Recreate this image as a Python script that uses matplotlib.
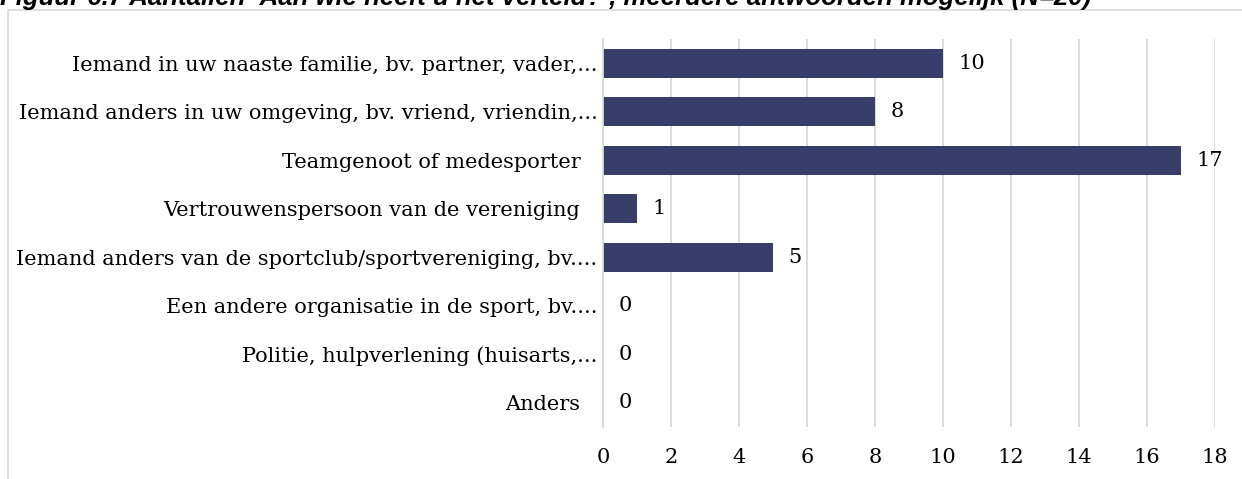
import matplotlib
matplotlib.use("Agg")
import matplotlib.pyplot as plt
from matplotlib.patches import Rectangle
from matplotlib.transforms import ScaledTranslation

categories = [
    "Iemand in uw naaste familie, bv. partner, vader,...",
    "Iemand anders in uw omgeving, bv. vriend, vriendin,...",
    "Teamgenoot of medesporter",
    "Vertrouwenspersoon van de vereniging",
    "Iemand anders van de sportclub/sportvereniging, bv....",
    "Een andere organisatie in de sport, bv....",
    "Politie, hulpverlening (huisarts,...",
    "Anders",
]
values = [10, 8, 17, 1, 5, 0, 0, 0]
xticks = [0, 2, 4, 6, 8, 10, 12, 14, 16, 18]
title = "Figuur 6.7 Aantallen \u2018Aan wie heeft u het verteld?\u2019, meerdere antwoorden mogelijk (N=20)"

W, H = 1242, 479
fig = plt.figure(figsize=(W / 100, H / 100), dpi=100)
fig.patch.set_facecolor("white")

left, right, top, bottom = 603, 1215, 39, 427
ax = fig.add_axes([left / W, 1 - bottom / H, (right - left) / W, (bottom - top) / H])

serif = ["DejaVu Serif"]
fs = 15
bar_color = "#383D69"
grid_color = "#D9D9D9"

ypos = list(range(len(categories)))
ax.barh(ypos, values, height=0.6, color=bar_color, zorder=3)
ax.set_xlim(0, 18)
ax.set_ylim(len(categories) - 0.5, -0.5)
ax.set_xticks(xticks)
ax.set_xticklabels([str(t) for t in xticks], fontfamily=serif, fontsize=fs, color="#000000")
ax.set_yticks(ypos)
ax.set_yticklabels(categories, fontfamily=serif, fontsize=fs, color="#000000")
ax.tick_params(axis="both", length=0)
ax.tick_params(axis="x", pad=15)
ax.tick_params(axis="y", pad=4)
for lbl in ax.get_yticklabels():
    if not lbl.get_text().endswith("..."):
        lbl.set_transform(lbl.get_transform() + ScaledTranslation(-17 / 100, 0, fig.dpi_scale_trans))

ax.grid(axis="x", color=grid_color, linewidth=1.3, zorder=0)
ax.grid(axis="y", visible=False)
for s in ["top", "right", "bottom"]:
    ax.spines[s].set_visible(False)
ax.spines["left"].set_color(grid_color)
ax.spines["left"].set_linewidth(1.3)
ax.spines["left"].set_zorder(4)

for y, v in zip(ypos, values):
    ax.annotate(str(v), xy=(v, y), xytext=(11, 0), textcoords="offset points",
                va="center", ha="left", fontfamily=serif, fontsize=fs, color="#000000")

# outer frame
fig.patches.append(Rectangle((8 / W, -0.2), 1.5, 1.2 - 10 / H, transform=fig.transFigure,
                             fill=False, edgecolor=grid_color, linewidth=1.2, clip_on=False))

fig.text(0 / W, 1 - 5 / H, title, ha="left", va="baseline", fontfamily=["Liberation Sans"],
         fontweight="bold", fontstyle="italic", fontsize=18.5, color="#000000")

fig.savefig("out.png", dpi=100)
